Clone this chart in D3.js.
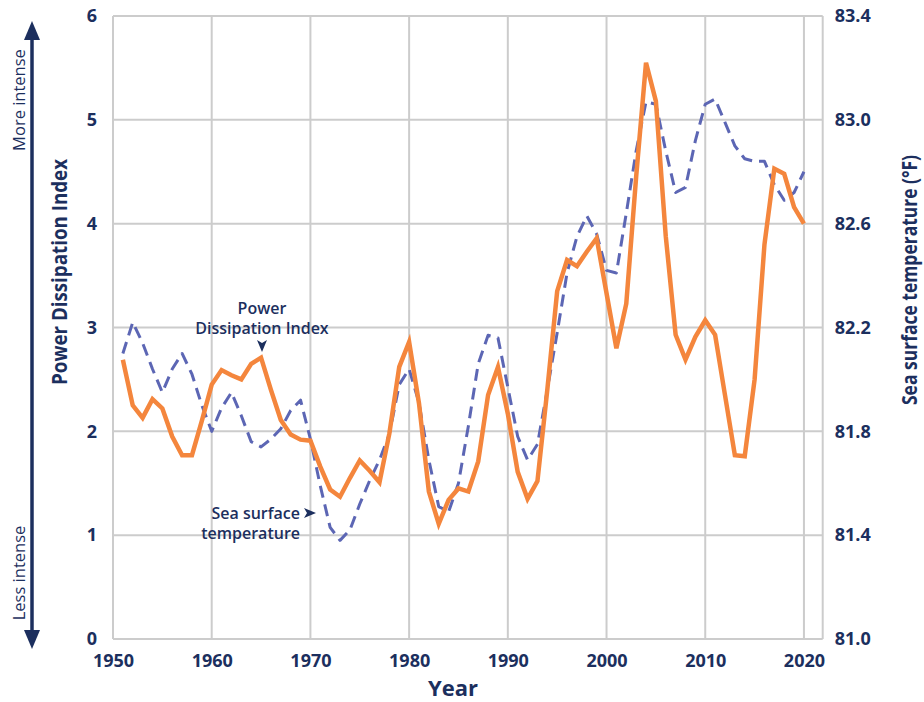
<!DOCTYPE html>
<html><head><meta charset="utf-8">
<script src="https://cdn.jsdelivr.net/npm/d3@7"></script>
<style>
html,body{margin:0;padding:0;background:#fff;}
text{font-family:"Open Sans",sans-serif;}
</style></head>
<body><svg id="c" width="924" height="702"></svg>
<script>
const years = d3.range(1951, 2021);
const pdiValues = [
2.69,2.25,2.13,2.31,2.22,1.95,1.77,1.77,2.10,2.45,
2.59,2.54,2.50,2.65,2.71,2.40,2.11,1.97,1.92,1.91,
1.66,1.44,1.37,1.55,1.72,1.62,1.51,1.98,2.62,2.86,
2.27,1.42,1.11,1.34,1.45,1.42,1.71,2.35,2.62,2.17,
1.61,1.35,1.52,2.40,3.35,3.65,3.59,3.73,3.86,3.33,
2.80,3.23,4.45,5.55,5.18,3.88,2.93,2.69,2.91,3.07,
2.93,2.35,1.77,1.76,2.50,3.80,4.53,4.48,4.16,4.00];
const sstValues = [
82.10,82.22,82.14,82.04,81.95,82.04,82.10,82.02,81.90,81.80,
81.89,81.95,81.86,81.76,81.74,81.77,81.81,81.88,81.92,81.77,
81.59,81.43,81.38,81.42,81.52,81.61,81.69,81.79,81.98,82.04,
81.91,81.69,81.51,81.49,81.60,81.82,82.06,82.17,82.16,81.97,
81.78,81.69,81.75,81.96,82.18,82.41,82.55,82.63,82.56,82.42,
82.41,82.64,82.88,83.07,83.06,82.88,82.72,82.74,82.92,83.06,
83.08,82.99,82.90,82.85,82.84,82.84,82.75,82.69,82.72,82.80];
const xTicks = [1950,1960,1970,1980,1990,2000,2010,2020];
const leftTicks = [0,1,2,3,4,5,6];
const rightTicks = [81.0,81.4,81.8,82.2,82.6,83.0,83.4];

const navy = "#1c2f5e", orange = "#f4863d", blue = "#5c66b4", grid = "#cccccc";
const svg = d3.select("#c");
const L = 113, R = 822.7, T = 16, B = 639;
const x = d3.scaleLinear().domain([1950, 2021.9]).range([L, R]);
const yL = d3.scaleLinear().domain([0, 6]).range([B, T]);
const yR = d3.scaleLinear().domain([81, 83.4]).range([B, T]);

// grid
const g = svg.append("g");
g.selectAll(".vg").data(xTicks).join("line")
  .attr("x1", d => x(d)).attr("x2", d => x(d)).attr("y1", T).attr("y2", B)
  .attr("stroke", grid).attr("stroke-width", 2);
g.append("line").attr("x1", R).attr("x2", R).attr("y1", T).attr("y2", B).attr("stroke", grid).attr("stroke-width", 2);
g.selectAll(".hg").data(leftTicks).join("line")
  .attr("x1", L).attr("x2", R).attr("y1", d => yL(d)).attr("y2", d => yL(d))
  .attr("stroke", grid).attr("stroke-width", 2);

// axes (labels only)
const axL = svg.append("g").attr("transform", `translate(${L - 16},0)`)
  .call(d3.axisLeft(yL).tickValues(leftTicks).tickSize(0).tickPadding(0).tickFormat(d3.format("d")));
const axR = svg.append("g").attr("transform", `translate(${R + 12},0)`)
  .call(d3.axisRight(yR).tickValues(rightTicks).tickSize(0).tickPadding(0).tickFormat(d3.format(".1f")));
const axB = svg.append("g").attr("transform", `translate(0,${B + 15})`)
  .call(d3.axisBottom(x).tickValues(xTicks).tickSize(0).tickPadding(0).tickFormat(d3.format("d")));
[axL, axR, axB].forEach(a => {
  a.select(".domain").remove();
  a.selectAll("text").attr("fill", navy).style("font-size", "18px").style("font-weight", 700)
   .style("font-family", '"Open Sans",sans-serif');
});

// lines
const lineSST = d3.line().x((d, i) => x(years[i])).y(d => yR(d));
const linePDI = d3.line().x((d, i) => x(years[i])).y(d => yL(d));
svg.append("path").datum(sstValues).attr("d", lineSST).attr("fill", "none")
  .attr("stroke", blue).attr("stroke-width", 3).attr("stroke-dasharray", "12,7").attr("stroke-linejoin", "round");
svg.append("path").datum(pdiValues).attr("d", linePDI).attr("fill", "none")
  .attr("stroke", orange).attr("stroke-width", 4.5).attr("stroke-linejoin", "miter");

// axis titles
svg.append("text").attr("transform", "translate(67,272) rotate(-90)").attr("text-anchor", "middle")
  .attr("fill", navy).style("font-size", "21px").style("font-weight", 700)
  .attr("textLength", 226).attr("lengthAdjust", "spacingAndGlyphs").text("Power Dissipation Index");
svg.append("text").attr("transform", "translate(917,280) rotate(-90)").attr("text-anchor", "middle")
  .attr("fill", navy).style("font-size", "21px").style("font-weight", 700)
  .attr("textLength", 250).attr("lengthAdjust", "spacingAndGlyphs").text("Sea surface temperature (°F)");
svg.append("text").attr("x", 453).attr("y", 696).attr("text-anchor", "middle")
  .attr("fill", navy).style("font-size", "22px").style("font-weight", 700).text("Year");

// intensity arrow
const ax = 32;
svg.append("line").attr("x1", ax).attr("x2", ax).attr("y1", 34).attr("y2", 636)
  .attr("stroke", navy).attr("stroke-width", 3.5);
svg.append("path").attr("d", `M${ax},21 L${ax - 8},40 L${ax + 8},40 Z`).attr("fill", navy);
svg.append("path").attr("d", `M${ax},649 L${ax - 8},630 L${ax + 8},630 Z`).attr("fill", navy);
svg.append("text").attr("transform", "translate(25,100) rotate(-90)").attr("text-anchor", "middle")
  .attr("fill", navy).style("font-size", "16.5px").text("More intense");
svg.append("text").attr("transform", "translate(25,573) rotate(-90)").attr("text-anchor", "middle")
  .attr("fill", navy).style("font-size", "16.5px").text("Less intense");

// annotations
const ann = svg.append("g").attr("fill", navy).style("font-size", "16px").style("font-weight", 600);
ann.append("text").attr("x", 262).attr("y", 314).attr("text-anchor", "middle").text("Power");
ann.append("text").attr("x", 262).attr("y", 334).attr("text-anchor", "middle").text("Dissipation Index");
svg.append("path").attr("d", "M262,352 L257,340 L262,343 L267,340 Z").attr("fill", navy);
ann.append("text").attr("x", 300).attr("y", 519).attr("text-anchor", "end").text("Sea surface");
ann.append("text").attr("x", 300).attr("y", 539).attr("text-anchor", "end").text("temperature");
svg.append("path").attr("d", "M316,513 L304,508 L307,513 L304,518 Z").attr("fill", navy);
</script></body></html>
